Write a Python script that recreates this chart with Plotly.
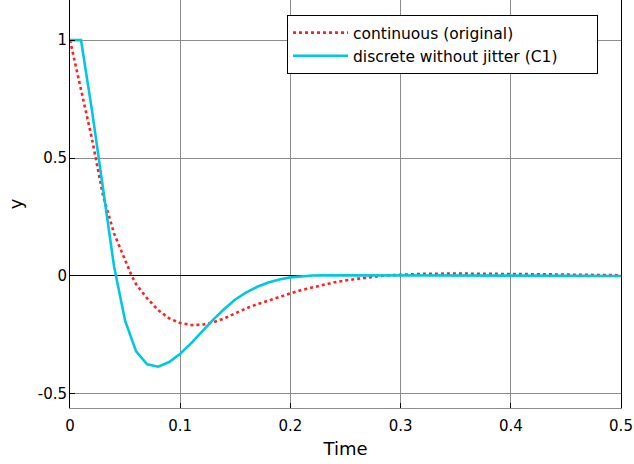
import plotly.graph_objects as go

# Continuous (original) response
t_cont = [0.0, 0.005, 0.01, 0.02, 0.03, 0.04, 0.05, 0.056, 0.06, 0.07, 0.08, 0.09, 0.10, 0.11,
          0.12, 0.13, 0.14, 0.15, 0.16, 0.17, 0.18, 0.19, 0.20, 0.21, 0.22, 0.23, 0.24,
          0.25, 0.26, 0.27, 0.28, 0.29, 0.30, 0.32, 0.35, 0.38, 0.40, 0.43, 0.46, 0.50]
y_cont = [1.0, 0.89, 0.79, 0.58, 0.34, 0.18, 0.065, 0.0, -0.035, -0.095, -0.145, -0.18, -0.2, -0.208,
          -0.207, -0.197, -0.18, -0.158, -0.137, -0.12, -0.104, -0.089, -0.074, -0.06, -0.048, -0.037, -0.027,
          -0.019, -0.012, -0.006, -0.001, 0.003, 0.006, 0.009, 0.01, 0.01, 0.009, 0.007, 0.005, 0.003]

# Discrete without jitter (C1)
t_disc = [0.0, 0.01, 0.02, 0.03, 0.04, 0.05, 0.06, 0.07, 0.08, 0.09, 0.10, 0.11, 0.12, 0.13,
          0.14, 0.15, 0.16, 0.17, 0.18, 0.19, 0.20, 0.21, 0.22, 0.23, 0.24, 0.25, 0.27, 0.30,
          0.35, 0.40, 0.45, 0.50]
y_disc = [1.0, 1.0, 0.70, 0.38, 0.04, -0.19, -0.32, -0.375, -0.385, -0.365, -0.33, -0.285, -0.235, -0.185,
          -0.14, -0.10, -0.07, -0.046, -0.028, -0.015, -0.006, -0.001, 0.002, 0.003, 0.003, 0.003, 0.002, 0.001,
          0.0, 0.0, 0.0, 0.0]

x_tickvals = [0, 0.1, 0.2, 0.3, 0.4, 0.5]
x_ticktext = ["0", "0.1", "0.2", "0.3", "0.4", "0.5"]
y_tickvals = [-0.5, 0, 0.5, 1]
y_ticktext = ["-0.5", "0", "0.5", "1"]

series_names = ["continuous (original)", "discrete without jitter (C1)"]

FONT = "DejaVu Sans"
GRID = "#8c8c8c"
PAD = "\u00a0" * 7

fig = go.Figure()
fig.add_trace(go.Scatter(x=t_cont, y=y_cont, mode="lines", name=series_names[0] + PAD,
                         line=dict(color="#ff2020", width=2.6, dash="dot")))
fig.add_trace(go.Scatter(x=t_disc, y=y_disc, mode="lines", name=series_names[1] + PAD,
                         line=dict(color="#00c8e0", width=2.6)))

fig.update_layout(
    width=634, height=464,
    margin=dict(l=70, r=13, t=0, b=56, autoexpand=False),
    paper_bgcolor="white", plot_bgcolor="white",
    font=dict(family=FONT, size=15, color="black"),
    showlegend=True,
    legend=dict(x=(287 - 70) / 551, y=1 - 15 / 408, xanchor="left", yanchor="top",
                bordercolor="black", borderwidth=1, bgcolor="white",
                font=dict(family=FONT, size=15.5), tracegroupgap=0, itemwidth=55),
    xaxis=dict(range=[0, 0.5], tickvals=x_tickvals, ticktext=x_ticktext, automargin=False,
               showgrid=True, gridcolor=GRID, gridwidth=1, zeroline=False,
               showline=True, linecolor=GRID, linewidth=1,
               ticks="inside", ticklen=5, tickcolor="black", ticklabelstandoff=4,
               title=dict(text="Time", font=dict(size=18), standoff=8)),
    yaxis=dict(range=[-0.56, 1.17], tickvals=y_tickvals, ticktext=y_ticktext, automargin=False,
               showgrid=True, gridcolor=GRID, gridwidth=1,
               zeroline=True, zerolinecolor="black", zerolinewidth=1,
               showline=True, linecolor="black", linewidth=1, mirror=True,
               ticks="inside", ticklen=5, tickcolor="black", ticklabelstandoff=-1,
               title=dict(text="y", font=dict(size=18), standoff=10)),
)

fig.write_html("out.html", config={"displayModeBar": False},
               post_script="document.body.style.margin='0';")
